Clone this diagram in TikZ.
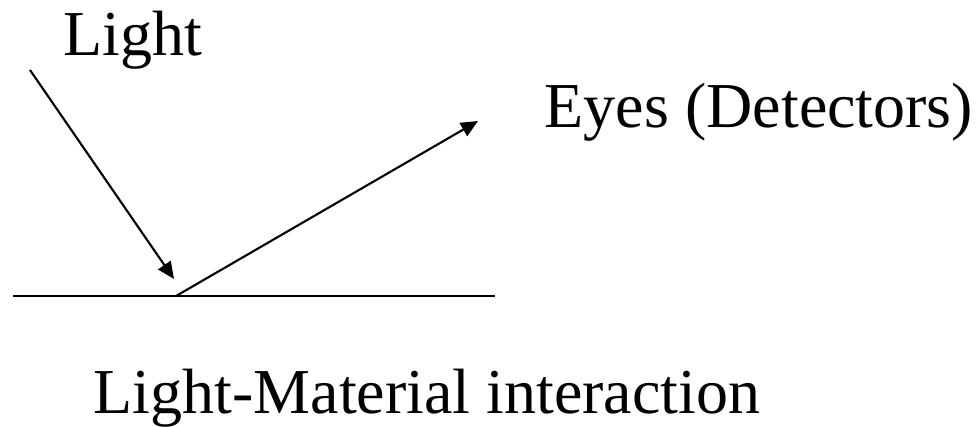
\documentclass[tikz,border=0pt]{standalone}
\usepackage{fontspec}
\setmainfont{Liberation Serif}
\usepackage{tikz}
\usetikzlibrary{arrows.meta,positioning}

\begin{document}
\begin{tikzpicture}[x=0.01cm, y=-0.01cm, line width=0.6pt,
    ray/.style={-{Triangle[length=1.7mm,width=1.5mm]}},
    label/.style={font=\fontsize{18.2}{21}\selectfont, anchor=base}]
    \useasboundingbox (0,0) rectangle (977,426);
    % surface and rays
    \coordinate (src) at (30,70);
    \coordinate (tip) at (174,279);
    \coordinate (hit) at (176,296);
    \coordinate (eye) at (478,121);
    \coordinate (left) at (13,296);
    \coordinate (right) at (495,296);
    \draw (left) -- (right);
    \draw[ray] (src) -- (tip);
    \draw[ray] (hit) -- (eye);
    % labels
    \node[label] (light) at (133,55) {Light};
    \node[label] (eyes) at (759,127) {Eyes (Detectors)};
    \node[label] (caption) at (427,413) {Light-Material interaction};
\end{tikzpicture}
\end{document}
